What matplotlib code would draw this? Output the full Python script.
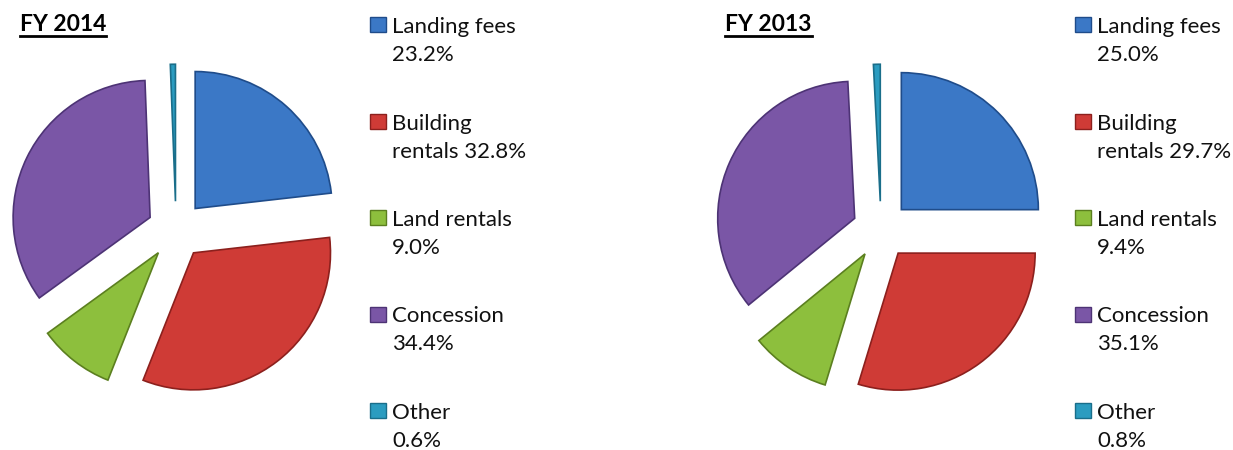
import matplotlib
matplotlib.use("Agg")
import matplotlib.pyplot as plt
from matplotlib.patches import Rectangle
from matplotlib.lines import Line2D

# Revenue mix data
years = ["FY 2014", "FY 2013"]
categories = ["Landing fees", "Building rentals", "Land rentals", "Concession", "Other"]
share_2014 = [23.2, 32.8, 9.0, 34.4, 0.6]
share_2013 = [25.0, 29.7, 9.4, 35.1, 0.8]
labels_2014 = ["Landing fees\n23.2%", "Building\nrentals 32.8%", "Land rentals\n9.0%",
               "Concession\n34.4%", "Other\n0.6%"]
labels_2013 = ["Landing fees\n25.0%", "Building\nrentals 29.7%", "Land rentals\n9.4%",
               "Concession\n35.1%", "Other\n0.8%"]

colors = ["#3b78c6", "#cf3b36", "#8dbf3d", "#7a56a6", "#2b9cc0"]
edge_colors = ["#1f4c8a", "#8c201d", "#5b7f1f", "#4d3375", "#1a6e8a"]

W, H = 1233, 450
fig = plt.figure(figsize=(W / 100, H / 100), dpi=100)

font = "Lato"
radius_px = 137
lim = 1.3
half = lim * radius_px

panels = [(share_2014, labels_2014, years[0], 0), (share_2013, labels_2013, years[1], 705)]

for values, labels, title, dx in panels:
    # pie
    cx, cy = 176 + dx, H - 230
    ax = fig.add_axes([(cx - half) / W, (cy - half) / H, 2 * half / W, 2 * half / H])
    ax.pie(values, colors=colors, startangle=90, counterclock=False,
           explode=[0.21] * len(values),
           wedgeprops=dict(linewidth=1.2))
    for w, ec in zip(ax.patches, edge_colors):
        w.set_edgecolor(ec)
    ax.set_xlim(-lim, lim)
    ax.set_ylim(-lim, lim)
    ax.set_aspect("equal")
    ax.axis("off")

    # title
    t = fig.text((20 + dx) / W, 1 - 31 / H, title, fontsize=16.5, fontweight="bold",
                 family=font, va="baseline", ha="left")
    fig.canvas.draw()
    bb = t.get_window_extent()
    fig.add_artist(Line2D([bb.x0 / W, bb.x1 / W], [1 - 36 / H, 1 - 36 / H],
                          transform=fig.transFigure, color="black", lw=2))

    # legend
    for i, (lab, c, ec) in enumerate(zip(labels, colors, edge_colors)):
        base = 31 + 96.5 * i
        fig.add_artist(Rectangle(((370 + dx) / W, 1 - (base + 1) / H), 16 / W, 15 / H,
                                 transform=fig.transFigure, facecolor=c,
                                 edgecolor=ec, lw=1))
        # va="baseline" lines up the last line of a two-line label
        fig.text((392 + dx) / W, 1 - (base + 30) / H, lab, fontsize=16, family=font,
                 va="baseline", ha="left", linespacing=1.5, color="#111111")

fig.savefig("out.png", dpi=100)
